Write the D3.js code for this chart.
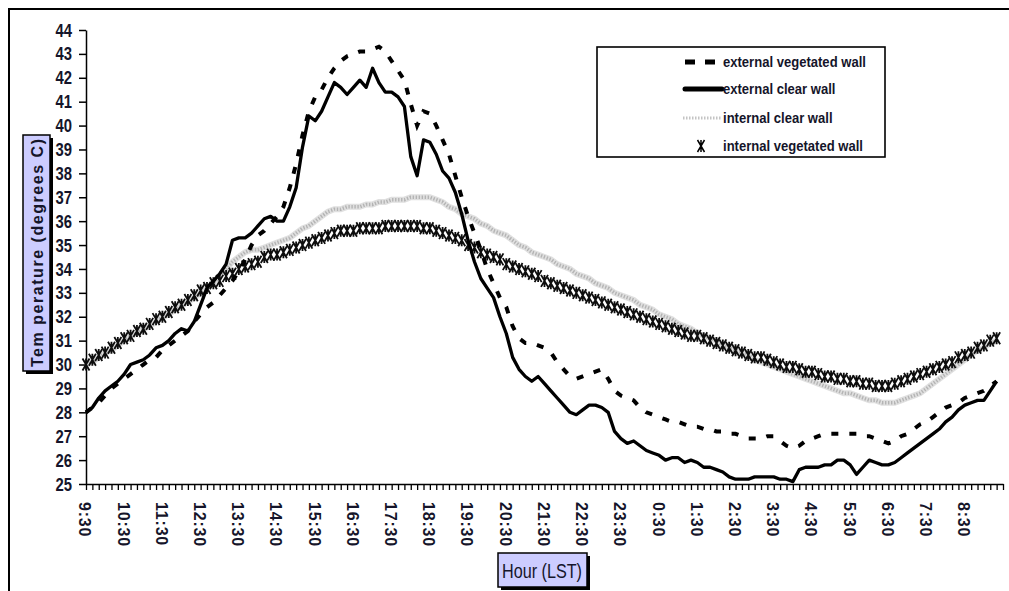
<!DOCTYPE html>
<html>
<head>
<meta charset="utf-8">
<script src="https://cdn.jsdelivr.net/npm/d3@7"></script>
<style>
  html, body { margin: 0; padding: 0; background: #fff; }
  svg { display: block; }
</style>
</head>
<body>
<div id="chart"></div>
<script>
"use strict";

// x axis labels, one every 6 readings (readings are every 10 minutes from 9:30)
const hourLabels = ["9:30", "10:30", "11:30", "12:30", "13:30", "14:30", "15:30", "16:30",
    "17:30", "18:30", "19:30", "20:30", "21:30", "22:30", "23:30", "0:30",
    "1:30", "2:30", "3:30", "4:30", "5:30", "6:30", "7:30", "8:30"];

const yTickValues = [25, 26, 27, 28, 29, 30, 31, 32, 33, 34, 35, 36, 37, 38, 39, 40, 41, 42, 43, 44];

const seriesNames = ["external vegetated wall", "external clear wall", "internal clear wall", "internal vegetated wall"];

// temperatures, degrees C
const externalVegetated = [
    28.0, 28.2, 28.4, 28.7, 29.0, 29.2, 29.4, 29.6, 29.8, 30.0,
    30.2, 30.3, 30.6, 30.8, 31.0, 31.2, 31.4, 31.8, 32.1, 32.4,
    32.6, 32.9, 33.2, 33.5, 33.9, 34.4, 35.0, 35.4, 35.6, 35.9,
    36.2, 36.6, 37.4, 38.4, 39.6, 40.6, 41.2, 41.5, 42.0, 42.4,
    42.7, 42.9, 43.0, 43.1, 43.1, 43.2, 43.3, 43.1, 42.7, 42.3,
    41.9, 40.9, 40.0, 40.6, 40.5, 40.0, 39.4, 38.8, 37.9, 37.0,
    36.2, 35.5, 34.8, 34.0, 33.4, 32.8, 32.4, 31.6, 31.1, 30.9,
    30.9, 30.8, 30.7, 30.5, 30.1, 29.8, 29.5, 29.4, 29.5, 29.6,
    29.7, 29.8, 29.4, 28.9, 28.7, 28.6, 28.5, 28.2, 28.0, 27.9,
    27.8, 27.7, 27.6, 27.6, 27.5, 27.4, 27.4, 27.3, 27.3, 27.2,
    27.2, 27.1, 27.1, 27.0, 26.9, 26.9, 26.9, 27.0, 27.0, 26.8,
    26.6, 26.5, 26.6, 26.8, 26.9, 27.0, 27.1, 27.1, 27.1, 27.1,
    27.1, 27.1, 27.0, 27.0, 26.9, 26.8, 26.7, 26.8, 27.0, 27.1,
    27.3, 27.5, 27.6, 27.8, 28.0, 28.2, 28.3, 28.4, 28.6, 28.7,
    28.8, 28.9, 29.1, 29.3
];
const externalClear = [
    28.0, 28.2, 28.6, 28.9, 29.1, 29.3, 29.6, 30.0, 30.1, 30.2,
    30.4, 30.7, 30.8, 31.0, 31.3, 31.5, 31.4, 31.8, 32.5, 33.2,
    33.5, 33.8, 34.2, 35.2, 35.3, 35.3, 35.5, 35.8, 36.1, 36.2,
    36.0, 36.0, 36.6, 37.4, 39.1, 40.4, 40.2, 40.6, 41.2, 41.8,
    41.6, 41.3, 41.6, 41.9, 41.6, 42.4, 41.8, 41.4, 41.4, 41.2,
    40.8, 38.7, 37.9, 39.4, 39.3, 38.8, 38.1, 37.8, 37.2, 36.3,
    35.2, 34.3, 33.6, 33.2, 32.8, 32.0, 31.3, 30.3, 29.8, 29.5,
    29.3, 29.5, 29.2, 28.9, 28.6, 28.3, 28.0, 27.9, 28.1, 28.3,
    28.3, 28.2, 28.0, 27.2, 26.9, 26.7, 26.8, 26.6, 26.4, 26.3,
    26.2, 26.0, 26.1, 26.1, 25.9, 26.0, 25.9, 25.7, 25.7, 25.6,
    25.5, 25.3, 25.2, 25.2, 25.2, 25.3, 25.3, 25.3, 25.3, 25.2,
    25.2, 25.1, 25.6, 25.7, 25.7, 25.7, 25.8, 25.8, 26.0, 26.0,
    25.8, 25.4, 25.7, 26.0, 25.9, 25.8, 25.8, 25.9, 26.1, 26.3,
    26.5, 26.7, 26.9, 27.1, 27.3, 27.6, 27.8, 28.1, 28.3, 28.4,
    28.5, 28.5, 28.9, 29.3
];
const internalClear = [
    30.0, 30.1, 30.3, 30.5, 30.6, 30.8, 31.0, 31.2, 31.3, 31.5,
    31.6, 31.8, 32.0, 32.1, 32.3, 32.5, 32.6, 32.8, 33.0, 33.2,
    33.4, 33.7, 34.0, 34.3, 34.5, 34.7, 34.8, 34.8, 34.9, 35.0,
    35.1, 35.2, 35.3, 35.5, 35.7, 35.8, 36.0, 36.2, 36.4, 36.5,
    36.5, 36.6, 36.6, 36.6, 36.7, 36.7, 36.8, 36.8, 36.9, 36.9,
    36.9, 37.0, 37.0, 37.0, 37.0, 36.9, 36.8, 36.6, 36.5, 36.3,
    36.2, 36.1, 35.9, 35.8, 35.6, 35.5, 35.4, 35.2, 35.0, 34.9,
    34.7, 34.6, 34.5, 34.4, 34.2, 34.1, 34.0, 33.8, 33.7, 33.6,
    33.4, 33.3, 33.2, 33.0, 32.9, 32.8, 32.7, 32.5, 32.4, 32.3,
    32.1, 32.0, 31.9, 31.7, 31.6, 31.5, 31.3, 31.2, 31.1, 31.0,
    30.8, 30.7, 30.6, 30.5, 30.4, 30.2, 30.1, 30.0, 29.9, 29.8,
    29.7, 29.6, 29.5, 29.4, 29.3, 29.2, 29.1, 29.0, 28.9, 28.8,
    28.8, 28.7, 28.6, 28.5, 28.5, 28.4, 28.4, 28.4, 28.5, 28.6,
    28.7, 28.8, 29.0, 29.2, 29.4, 29.6, 29.8, 30.0, 30.2, 30.4,
    30.6, 30.7, 30.9, 31.0
];
const internalVegetated = [
    30.0, 30.2, 30.4, 30.5, 30.7, 30.9, 31.1, 31.2, 31.4, 31.5,
    31.7, 31.9, 32.0, 32.2, 32.4, 32.5, 32.7, 32.9, 33.1, 33.2,
    33.4, 33.5, 33.7, 33.8, 34.0, 34.1, 34.2, 34.3, 34.5, 34.6,
    34.6, 34.7, 34.8, 34.9, 35.0, 35.1, 35.2, 35.3, 35.4, 35.5,
    35.6, 35.6, 35.6, 35.7, 35.7, 35.7, 35.7, 35.8, 35.8, 35.8,
    35.8, 35.8, 35.8, 35.7, 35.7, 35.6, 35.5, 35.4, 35.3, 35.2,
    35.0, 34.9, 34.7, 34.6, 34.5, 34.4, 34.2, 34.1, 34.0, 33.9,
    33.8, 33.7, 33.5, 33.4, 33.3, 33.2, 33.1, 33.0, 32.9, 32.8,
    32.7, 32.6, 32.5, 32.4, 32.3, 32.2, 32.1, 32.0, 31.9, 31.8,
    31.7, 31.6, 31.5, 31.4, 31.3, 31.2, 31.2, 31.1, 31.0, 30.9,
    30.8, 30.7, 30.6, 30.5, 30.4, 30.3, 30.3, 30.2, 30.1, 30.0,
    29.9, 29.9, 29.8, 29.7, 29.7, 29.6, 29.5, 29.5, 29.4, 29.4,
    29.3, 29.3, 29.2, 29.2, 29.1, 29.1, 29.1, 29.2, 29.3, 29.4,
    29.5, 29.6, 29.7, 29.8, 29.9, 30.0, 30.1, 30.3, 30.4, 30.5,
    30.7, 30.8, 31.0, 31.1
];


// setting
const width = 1009,
      height = 591;
const plot = { left: 86, right: 1003, top: 30, bottom: 484 };
const readingsPerLabel = 6;
const sansFont = "'Liberation Sans', Arial, sans-serif";
const textColor = "#15152a";


// squeeze text horizontally, the picture uses a narrow face
function condense(selection, ratio) {
    selection.each(function() {
        let w = this.getComputedTextLength();
        d3.select(this)
            .attr("textLength", w * ratio)
            .attr("lengthAdjust", "spacingAndGlyphs");
    });
}


let svg = d3.select("#chart")
    .append("svg")
    .attr("width", width)
    .attr("height", height);


// outer frame (only top and left edges show in the picture)
svg.append("path")
    .attr("d", `M9,591 V9 H${width}`)
    .attr("fill", "none")
    .attr("stroke", "#000")
    .attr("stroke-width", 2);


// scales
let scaleX = d3.scaleLinear()
    .domain([0, 144])
    .range([plot.left, plot.right]);

let scaleY = d3.scaleLinear()
    .domain([25, 44])
    .range([plot.bottom, plot.top]);


// y axis
let yAxis = svg.append("g")
    .attr("class", "y_axis")
    .attr("transform", `translate(${plot.left}, 0)`)
    .call(d3.axisLeft(scaleY).tickValues(yTickValues).tickSize(7).tickPadding(7).tickSizeOuter(0));
yAxis.selectAll("path, line").attr("stroke", "#000").attr("stroke-width", 1.5);
yAxis.selectAll("text")
    .attr("font-family", sansFont)
    .attr("font-weight", "bold")
    .attr("font-size", 19)
    .attr("fill", textColor)
    .call(condense, 0.78);


// x axis, one tick per reading
let xAxis = svg.append("g")
    .attr("class", "x_axis")
    .attr("transform", `translate(0, ${plot.bottom})`)
    .call(d3.axisBottom(scaleX).tickValues(d3.range(0, 145)).tickSize(6).tickFormat("").tickSizeOuter(0));
xAxis.selectAll("path, line").attr("stroke", "#000").attr("stroke-width", 1.3);

svg.append("g")
    .attr("class", "x_labels")
    .selectAll("text")
    .data(hourLabels)
    .enter()
    .append("text")
    .attr("transform", (d, i) => `translate(${scaleX(i * readingsPerLabel) - 1}, ${plot.bottom + 18}) rotate(90)`)
    .attr("dy", "0.35em")
    .attr("font-family", sansFont)
    .attr("font-weight", "bold")
    .attr("font-size", 16)
    .attr("letter-spacing", 0.8)
    .attr("fill", textColor)
    .text(d => d);


// axis titles in shaded boxes
function titleBox(x, y, w, h) {
    svg.append("rect")
        .attr("x", x + 3).attr("y", y + 3)
        .attr("width", w).attr("height", h)
        .attr("fill", "#000");
    svg.append("rect")
        .attr("x", x).attr("y", y)
        .attr("width", w).attr("height", h)
        .attr("fill", "#ccccff")
        .attr("stroke", "#000")
        .attr("stroke-width", 1.5);
}

titleBox(23, 135, 27, 236);
svg.append("text")
    .attr("transform", "translate(37, 253) rotate(-90)")
    .attr("text-anchor", "middle")
    .attr("dy", "0.36em")
    .attr("font-family", sansFont)
    .attr("font-weight", "bold")
    .attr("font-size", 16)
    .attr("fill", textColor)
    .attr("textLength", 228)
    .attr("lengthAdjust", "spacing")
    .text("Tem perature (degrees C)");

titleBox(498, 553, 89, 34);
svg.append("text")
    .attr("x", 542)
    .attr("y", 570)
    .attr("text-anchor", "middle")
    .attr("dy", "0.36em")
    .attr("font-family", sansFont)
    .attr("font-size", 21)
    .attr("fill", textColor)
    .attr("textLength", 80)
    .attr("lengthAdjust", "spacingAndGlyphs")
    .text("Hour (LST)");


// lines
let line = d3.line()
    .x((d, i) => scaleX(i))
    .y(d => scaleY(d));

let lines = svg.append("g").attr("class", "lines");

// internal clear wall: light textured band
lines.append("path")
    .datum(internalClear)
    .attr("d", line)
    .attr("fill", "none")
    .attr("stroke", "#e0e0e0")
    .attr("stroke-width", 6);
lines.append("path")
    .datum(internalClear)
    .attr("d", line)
    .attr("fill", "none")
    .attr("stroke", "#b4b4b4")
    .attr("stroke-width", 3.5)
    .attr("stroke-dasharray", "1.4,1.6");

// internal vegetated wall: star markers at every reading
const starPath = "M-3.5,-6L3.5,6M3.5,-6L-3.5,6M0,-6V6";
lines.append("g")
    .selectAll("path")
    .data(internalVegetated)
    .enter()
    .append("path")
    .attr("transform", (d, i) => `translate(${scaleX(i)}, ${scaleY(d)})`)
    .attr("d", starPath)
    .attr("fill", "none")
    .attr("stroke", "#0d0d0d")
    .attr("stroke-width", 1.8);

// external vegetated wall: dashed
lines.append("path")
    .datum(externalVegetated)
    .attr("d", line)
    .attr("fill", "none")
    .attr("stroke", "#000")
    .attr("stroke-width", 4)
    .attr("stroke-dasharray", "7,11");

// external clear wall: solid
lines.append("path")
    .datum(externalClear)
    .attr("d", line)
    .attr("fill", "none")
    .attr("stroke", "#000")
    .attr("stroke-width", 3.3)
    .attr("stroke-linejoin", "round");


// legend
let legend = svg.append("g").attr("class", "legend");
legend.append("rect")
    .attr("x", 597).attr("y", 47)
    .attr("width", 288).attr("height", 110)
    .attr("fill", "#fff")
    .attr("stroke", "#000")
    .attr("stroke-width", 1.6);

const legendY = [62, 89, 118, 146];

legend.append("line")
    .attr("x1", 685).attr("x2", 716)
    .attr("y1", legendY[0]).attr("y2", legendY[0])
    .attr("stroke", "#000").attr("stroke-width", 5)
    .attr("stroke-dasharray", "10,10");
legend.append("line")
    .attr("x1", 685).attr("x2", 722)
    .attr("y1", legendY[1]).attr("y2", legendY[1])
    .attr("stroke", "#000").attr("stroke-width", 5)
    .attr("stroke-linecap", "round");
legend.append("line")
    .attr("x1", 683).attr("x2", 722)
    .attr("y1", legendY[2]).attr("y2", legendY[2])
    .attr("stroke", "#c4c4c4").attr("stroke-width", 3)
    .attr("stroke-dasharray", "1.5,1.5");
legend.append("path")
    .attr("transform", `translate(701, ${legendY[3]})`)
    .attr("d", starPath)
    .attr("fill", "none")
    .attr("stroke", "#000")
    .attr("stroke-width", 1.5);

legend.selectAll("text")
    .data(seriesNames)
    .enter()
    .append("text")
    .attr("x", 723)
    .attr("y", (d, i) => legendY[i])
    .attr("dy", "0.36em")
    .attr("font-family", sansFont)
    .attr("font-weight", "bold")
    .attr("font-size", 15)
    .attr("fill", textColor)
    .text(d => d)
    .call(condense, 0.87);
</script>
</body>
</html>
